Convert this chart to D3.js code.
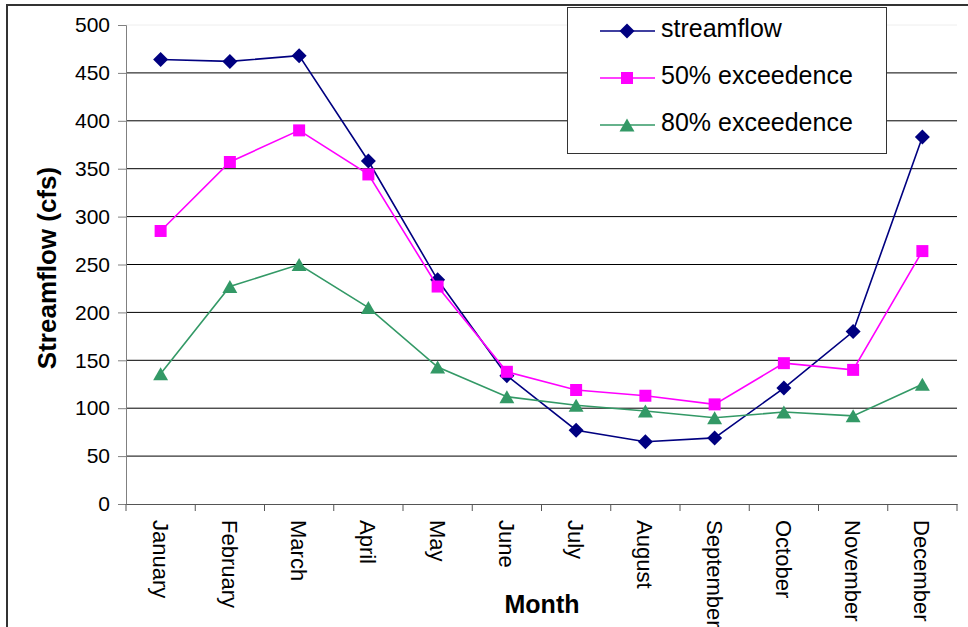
<!DOCTYPE html>
<html><head><meta charset="utf-8">
<script src="https://cdn.jsdelivr.net/npm/d3@7"></script>
<style>body{margin:0;background:#fff}svg{display:block;font-family:"Liberation Sans",Arial,sans-serif}</style>
</head><body><svg id="c" width="968" height="627"></svg>
<script>
const months = ["January","February","March","April","May","June","July","August","September","October","November","December"];
const streamflow = [464, 462, 468, 358, 234, 134, 77, 65, 69, 121, 180, 383];
const exc50 = [285, 357, 390, 344, 227, 138, 119, 113, 104, 147, 140, 264];
const exc80 = [136, 227, 250, 205, 143, 112, 103, 97, 90, 96, 92, 125];
const yTicks = [0,50,100,150,200,250,300,350,400,450,500];
const seriesNames = ["streamflow","50% exceedence","80% exceedence"];
const seriesColors = ["#000080","#FF00FF","#339966"];

// marker symbol types (custom shapes for d3.symbol)
const diamond = { draw(ctx, size) { const r = Math.sqrt(size) / 2; ctx.moveTo(0,-r); ctx.lineTo(r,0); ctx.lineTo(0,r); ctx.lineTo(-r,0); ctx.closePath(); } };
const square = { draw(ctx, size) { const h = Math.sqrt(size) / 2; ctx.rect(-h,-h,2*h,2*h); } };
const triangle = { draw(ctx, size) { const h = Math.sqrt(size) / 2; ctx.moveTo(0,-h); ctx.lineTo(h*1.15,h); ctx.lineTo(-h*1.15,h); ctx.closePath(); } };
const seriesShapes = [diamond, square, triangle];
const seriesSizes = [225, 144, 169];

const svg = d3.select("#c");
const L = 126, R = 957, T = 25, B = 504;
const x = d3.scaleBand().domain(months).range([L, R]);
const y = d3.scaleLinear().domain([0, 500]).range([B, T]);

// outer frame
svg.append("rect").attr("x", 7).attr("y", 5).attr("width", 980).attr("height", 650)
  .attr("fill", "none").attr("stroke", "#333").attr("stroke-width", 2);

// gridlines
svg.append("g").selectAll("line").data(yTicks.filter(d => d > 0)).join("line")
  .attr("x1", L).attr("x2", R).attr("y1", d => y(d)).attr("y2", d => y(d))
  .attr("stroke", d => d === 500 ? "#eee" : "#000").attr("stroke-width", 1);

// y axis
const ya = svg.append("g").attr("transform", `translate(${L},0)`)
  .call(d3.axisLeft(y).tickValues(yTicks).tickSize(8).tickPadding(8));
ya.select(".domain").attr("stroke", "#808080");
ya.selectAll(".tick line").attr("stroke", "#808080");
ya.selectAll("text").attr("font-size", 21).attr("fill", "#000").attr("font-family", "Liberation Sans, Arial");

// x axis
const xa = svg.append("g").attr("transform", `translate(0,${B})`)
  .call(d3.axisBottom(x).tickSize(0));
xa.select(".domain").attr("stroke", "#555");
xa.selectAll(".tick text").attr("font-size", 22).attr("fill", "#000")
  .attr("font-family", "Liberation Sans, Arial")
  .attr("text-anchor", "start").attr("dy", null)
  .attr("transform", "translate(-8,16) rotate(90)").attr("x", 0).attr("y", 0);
// x tick marks at band boundaries
svg.append("g").selectAll("line").data(months.concat(["_end"])).join("line")
  .attr("x1", (d, i) => i < 12 ? x(d) : R).attr("x2", (d, i) => i < 12 ? x(d) : R)
  .attr("y1", B).attr("y2", B + 7).attr("stroke", "#555");

// series
const data = [streamflow, exc50, exc80];
const line = d3.line().x((d, i) => x(months[i]) + x.bandwidth() / 2).y(d => y(d));
data.forEach((s, k) => {
  svg.append("path").datum(s).attr("d", line).attr("fill", "none")
    .attr("stroke", seriesColors[k]).attr("stroke-width", 1.6);
  svg.append("g").selectAll("path").data(s).join("path")
    .attr("transform", (d, i) => `translate(${x(months[i]) + x.bandwidth() / 2},${y(d)})`)
    .attr("d", d3.symbol().type(seriesShapes[k]).size(seriesSizes[k]))
    .attr("fill", seriesColors[k]);
});

// legend
const lg = svg.append("g");
lg.append("rect").attr("x", 567.5).attr("y", 7.5).attr("width", 319).attr("height", 146)
  .attr("fill", "#fff").attr("stroke", "#333").attr("stroke-width", 1);
seriesNames.forEach((n, k) => {
  const cy = 31 + k * 47;
  lg.append("line").attr("x1", 600).attr("x2", 655).attr("y1", cy).attr("y2", cy)
    .attr("stroke", seriesColors[k]).attr("stroke-width", 1.6);
  lg.append("path").attr("transform", `translate(627,${cy})`)
    .attr("d", d3.symbol().type(seriesShapes[k]).size(seriesSizes[k])).attr("fill", seriesColors[k]);
  lg.append("text").attr("x", 661).attr("y", cy + 6).attr("font-size", 25).text(n);
});

// axis titles
svg.append("text").attr("transform", "translate(56,268) rotate(-90)")
  .attr("text-anchor", "middle").attr("font-size", 26).attr("font-weight", "bold").text("Streamflow (cfs)");
svg.append("text").attr("x", 542).attr("y", 613)
  .attr("text-anchor", "middle").attr("font-size", 25).attr("font-weight", "bold").text("Month");
</script></body></html>
